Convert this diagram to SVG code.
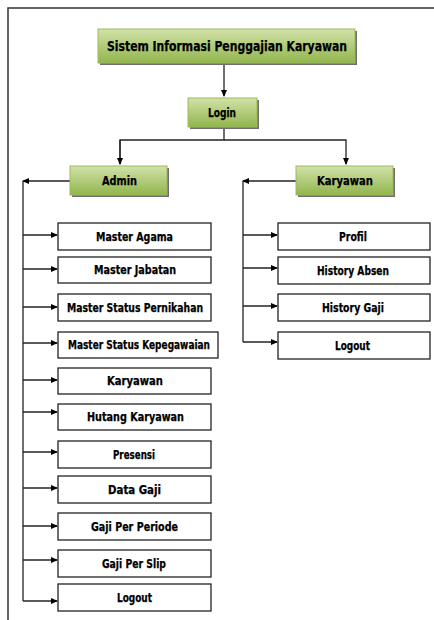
<svg xmlns="http://www.w3.org/2000/svg" width="434" height="620" viewBox="0 0 434 620">
<defs>
<linearGradient id="g" x1="0" y1="0" x2="0" y2="1">
<stop offset="0" stop-color="#d2e2a8"/>
<stop offset="1" stop-color="#92b54d"/>
</linearGradient>
<marker id="ah" markerWidth="7" markerHeight="7" refX="6" refY="3.5" orient="auto" markerUnits="userSpaceOnUse">
<path d="M0,0.5 L7,3.5 L0,6.5 Z" fill="#000"/>
</marker>
<style>
.gb{fill:url(#g);stroke:#9bbb59;stroke-width:1}
.sh{fill:#6f6f6f}
.wb{fill:#fff;stroke:#222;stroke-width:1.3}
.t{font-family:"DejaVu Sans Condensed","Liberation Sans Narrow","Liberation Sans",sans-serif;font-weight:bold;font-size:12px;fill:#000;stroke:#000;stroke-width:0.25;text-anchor:middle}
.tt{font-size:14.5px}
.c{fill:none;stroke:#222;stroke-width:1.3}
.a{marker-end:url(#ah)}
</style>
</defs>
<rect width="434" height="620" fill="#fff"/>
<path d="M8,620 V8 H434" fill="none" stroke="#333" stroke-width="1.5"/>

<g id="connectors">
<path class="c a" d="M224,63 V96"/>
<path class="c" d="M224,127 V140 H120 V164"/>
<path class="c a" d="M120,140 V164"/>
<path class="c a" d="M224,140 H346 V164"/>
<path class="c a" d="M70,181 H23"/>
<path class="c" d="M23,181 V601"/>
<path class="c a" d="M23,235 H57"/>
<path class="c a" d="M23,269 H57"/>
<path class="c a" d="M23,307 H57"/>
<path class="c a" d="M23,343 H57"/>
<path class="c a" d="M23,380 H57"/>
<path class="c a" d="M23,412 H57"/>
<path class="c a" d="M23,452 H57"/>
<path class="c a" d="M23,488 H57"/>
<path class="c a" d="M23,526 H57"/>
<path class="c a" d="M23,560 H57"/>
<path class="c a" d="M23,601 H57"/>
<path class="c a" d="M296,181 H243"/>
<path class="c" d="M243,181 V342"/>
<path class="c a" d="M243,235 H277"/>
<path class="c a" d="M243,268 H277"/>
<path class="c a" d="M243,306 H277"/>
<path class="c a" d="M243,342 H277"/>
</g>

<g id="title">
<rect class="sh" x="100" y="31" width="257" height="34"/>
<rect class="gb" x="98" y="29" width="257" height="34"/>
<text class="t tt" x="227" y="51" textLength="240" lengthAdjust="spacingAndGlyphs">Sistem Informasi Penggajian Karyawan</text>
</g>
<g id="login">
<rect class="sh" x="190" y="100" width="69" height="29"/>
<rect class="gb" x="188" y="98" width="69" height="29"/>
<text class="t" x="222" y="116.5" textLength="28" lengthAdjust="spacingAndGlyphs">Login</text>
</g>
<g id="admin">
<rect class="sh" x="72" y="168" width="97" height="29"/>
<rect class="gb" x="70" y="166" width="97" height="29"/>
<text class="t" x="119.5" y="184.5" textLength="35" lengthAdjust="spacingAndGlyphs">Admin</text>
</g>
<g id="karyawan-role">
<rect class="sh" x="298" y="168" width="97" height="29"/>
<rect class="gb" x="296" y="166" width="97" height="29"/>
<text class="t" x="345" y="184.5" textLength="56" lengthAdjust="spacingAndGlyphs">Karyawan</text>
</g>

<g id="master-agama"><rect class="wb" x="58" y="223" width="153" height="27"/><text class="t" x="134.5" y="240.5" textLength="77" lengthAdjust="spacingAndGlyphs">Master Agama</text></g>
<g id="master-jabatan"><rect class="wb" x="58" y="257" width="153" height="26"/><text class="t" x="135" y="274" textLength="82" lengthAdjust="spacingAndGlyphs">Master Jabatan</text></g>
<g id="master-status-pernikahan"><rect class="wb" x="58" y="294" width="153" height="27"/><text class="t" x="135" y="311.5" textLength="136" lengthAdjust="spacingAndGlyphs">Master Status Pernikahan</text></g>
<g id="master-status-kepegawaian"><rect class="wb" x="58" y="332" width="160" height="26"/><text class="t" x="139" y="349" textLength="142" lengthAdjust="spacingAndGlyphs">Master Status Kepegawaian</text></g>
<g id="karyawan"><rect class="wb" x="58" y="368" width="153" height="26"/><text class="t" x="135" y="385" textLength="56" lengthAdjust="spacingAndGlyphs">Karyawan</text></g>
<g id="hutang-karyawan"><rect class="wb" x="58" y="404" width="153" height="26"/><text class="t" x="135.5" y="421" textLength="97" lengthAdjust="spacingAndGlyphs">Hutang Karyawan</text></g>
<g id="presensi"><rect class="wb" x="58" y="441" width="153" height="27"/><text class="t" x="134" y="458.5" textLength="42" lengthAdjust="spacingAndGlyphs">Presensi</text></g>
<g id="data-gaji"><rect class="wb" x="58" y="476" width="153" height="27"/><text class="t" x="134.5" y="493.5" textLength="53" lengthAdjust="spacingAndGlyphs">Data Gaji</text></g>
<g id="gaji-per-periode"><rect class="wb" x="58" y="513" width="153" height="27"/><text class="t" x="134.5" y="530.5" textLength="87" lengthAdjust="spacingAndGlyphs">Gaji Per Periode</text></g>
<g id="gaji-per-slip"><rect class="wb" x="58" y="550" width="153" height="27"/><text class="t" x="134" y="567.5" textLength="64" lengthAdjust="spacingAndGlyphs">Gaji Per Slip</text></g>
<g id="logout-admin"><rect class="wb" x="58" y="584" width="153" height="27"/><text class="t" x="134.5" y="601.5" textLength="35" lengthAdjust="spacingAndGlyphs">Logout</text></g>

<g id="profil"><rect class="wb" x="278" y="223" width="152" height="27"/><text class="t" x="353" y="240.5" textLength="28" lengthAdjust="spacingAndGlyphs">Profil</text></g>
<g id="history-absen"><rect class="wb" x="278" y="257" width="152" height="27"/><text class="t" x="353" y="274.5" textLength="72" lengthAdjust="spacingAndGlyphs">History Absen</text></g>
<g id="history-gaji"><rect class="wb" x="278" y="294" width="152" height="27"/><text class="t" x="353" y="311.5" textLength="62" lengthAdjust="spacingAndGlyphs">History Gaji</text></g>
<g id="logout-karyawan"><rect class="wb" x="278" y="332" width="152" height="27"/><text class="t" x="352.5" y="349.5" textLength="35" lengthAdjust="spacingAndGlyphs">Logout</text></g>
</svg>
